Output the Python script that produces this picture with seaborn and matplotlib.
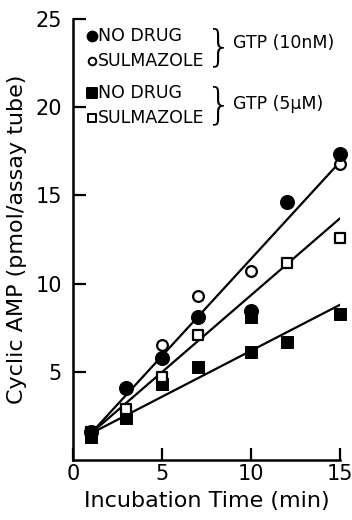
import pandas as pd
import matplotlib.pyplot as plt
import seaborn as sns

sns.set_theme(style="ticks")
plt.rcParams['font.family'] = ['DejaVu Sans']
plt.rcParams['text.color'] = 'black'
plt.rcParams['axes.labelcolor'] = 'black'

# datos
t_nodrug_10nm = [1, 3, 5, 7, 10, 12, 15]
camp_nodrug_10nm = [1.6, 4.1, 5.8, 8.1, 8.45, 14.6, 17.35]

t_sulm_10nm = [1, 5, 7, 10, 15]
camp_sulm_10nm = [1.6, 6.5, 9.3, 10.7, 16.8]

t_nodrug_5um = [1, 3, 5, 7, 10, 10, 12, 15]
camp_nodrug_5um = [1.3, 2.4, 4.3, 5.3, 8.1, 6.1, 6.7, 8.3]

t_sulm_5um = [1, 3, 5, 7, 12, 15]
camp_sulm_5um = [1.6, 2.9, 4.7, 7.1, 11.15, 12.6]

# rectas de ajuste (extremos)
fit_t = [1, 15]
fit_10nm = [1.5, 16.9]
fit_5um_sulm = [1.5, 13.7]
fit_5um_nodrug = [1.5, 8.8]

fig = plt.figure(figsize=(3.52, 5.2), dpi=100)
ax = fig.add_axes([73/352, 60/520, 267/352, 441/520])

# lineas
for vals in [fit_10nm, fit_5um_sulm, fit_5um_nodrug]:
    sns.lineplot(x=fit_t, y=vals, ax=ax, color='black', linewidth=1.6)

# puntos
sns.scatterplot(x=t_nodrug_5um, y=camp_nodrug_5um, ax=ax, marker='s', s=75,
                color='black', edgecolor='black', zorder=5, clip_on=False)
sns.scatterplot(x=t_sulm_5um, y=camp_sulm_5um, ax=ax, marker='s', s=60,
                facecolor='white', edgecolor='black', linewidth=1.6, zorder=6, clip_on=False)
sns.scatterplot(x=t_sulm_10nm, y=camp_sulm_10nm, ax=ax, marker='o', s=60,
                facecolor='white', edgecolor='black', linewidth=1.6, zorder=6, clip_on=False)
sns.scatterplot(x=t_nodrug_10nm, y=camp_nodrug_10nm, ax=ax, marker='o', s=100,
                color='black', edgecolor='black', zorder=7, clip_on=False)

# leyenda manual con llaves
leg_y = [0.962, 0.905, 0.832, 0.776]
leg_lbl = ['NO DRUG', 'SULMAZOLE', 'NO DRUG', 'SULMAZOLE']
leg_mk = ['o', 'o', 's', 's']
leg_fc = ['black', 'white', 'black', 'white']
leg_s = [50, 30, 50, 30]
for yy, lbl, mk, fc, ss in zip(leg_y, leg_lbl, leg_mk, leg_fc, leg_s):
    ax.scatter([0.071], [yy], marker=mk, s=ss, facecolor=fc, edgecolor='black',
               linewidth=1.4, transform=ax.transAxes, clip_on=False, zorder=8)
    ax.text(0.095, yy, lbl, transform=ax.transAxes, fontsize=12.5,
            va='center', ha='left')

ax.text(0.598, 0.934, '}', transform=ax.transAxes, fontsize=30,
        va='center', ha='right', fontweight='light')
ax.text(0.600, 0.946, 'GTP (10nM)', transform=ax.transAxes, fontsize=12.5,
        va='center', ha='left')
ax.text(0.598, 0.804, '}', transform=ax.transAxes, fontsize=30,
        va='center', ha='right', fontweight='light')
ax.text(0.600, 0.808, 'GTP (5\u00b5M)', transform=ax.transAxes, fontsize=12.5,
        va='center', ha='left')

ax.set_xlim(0, 15)
ax.set_ylim(0, 25)
ax.set_xticks([0, 5, 10, 15])
ax.set_yticks([5, 10, 15, 20, 25])
ax.tick_params(direction='in', length=9, width=1.6, labelsize=15,
               colors='black')
ax.tick_params(axis='y', pad=8)
ax.tick_params(axis='x', pad=3)

sns.despine(ax=ax)
for sp in ['left', 'bottom']:
    ax.spines[sp].set_linewidth(1.8)
    ax.spines[sp].set_color('black')

ax.set_xlabel('Incubation Time (min)', fontsize=16, labelpad=5)
ax.set_ylabel('Cyclic AMP (pmol/assay tube)', fontsize=16, labelpad=6)
ax.set_facecolor('white')

fig.savefig('out.png', dpi=100, facecolor='white')
